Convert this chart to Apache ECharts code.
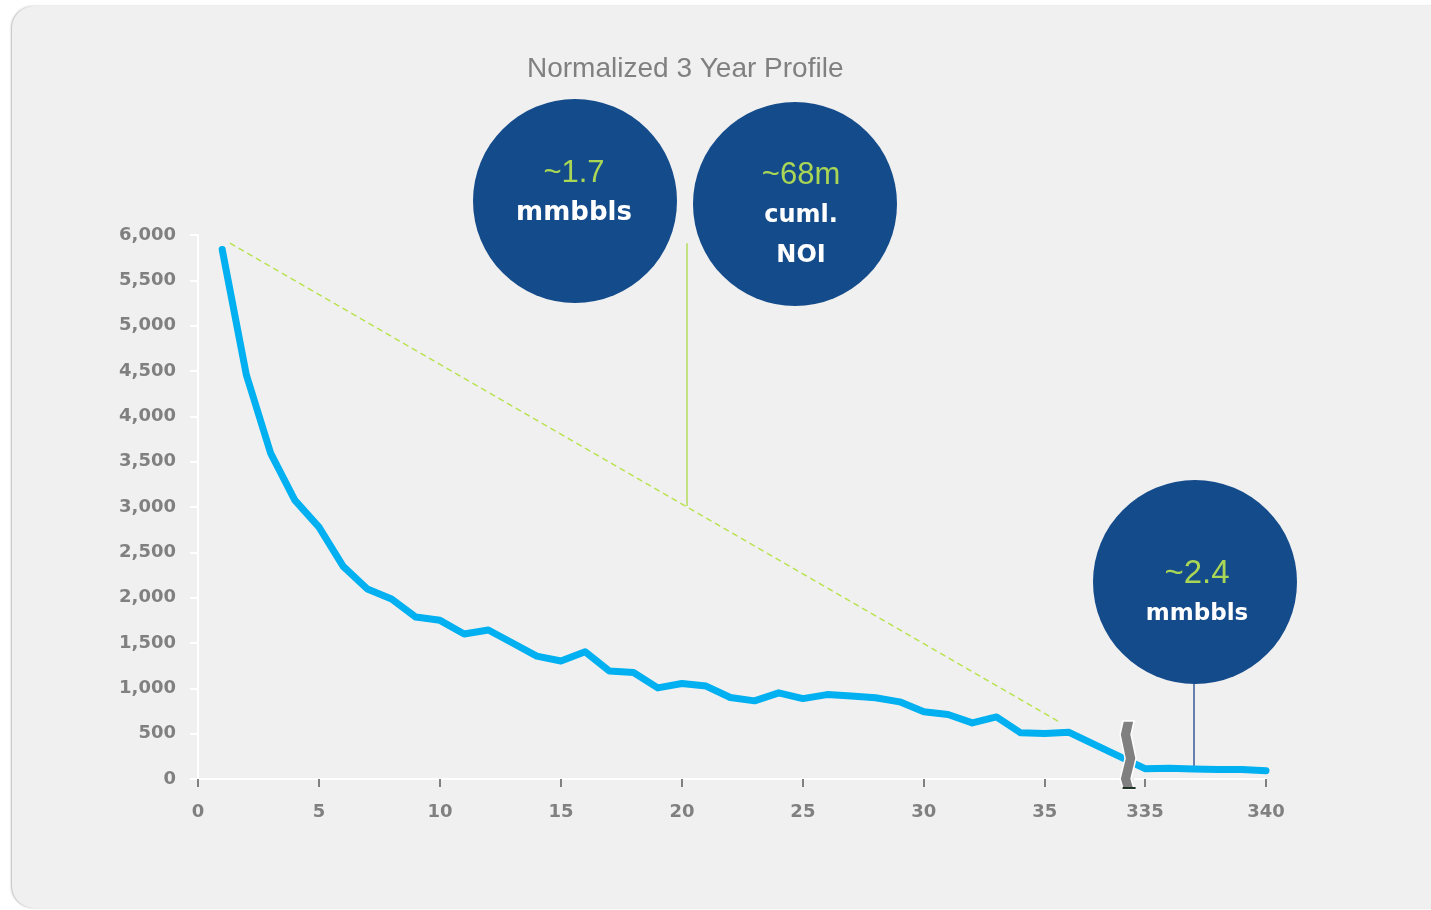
<!DOCTYPE html>
<html>
<head>
<meta charset="utf-8">
<script src="https://cdn.jsdelivr.net/npm/echarts@6.0.0/dist/echarts.min.js"></script>
<style>
html,body{margin:0;padding:0;background:#ffffff;width:1431px;height:910px;overflow:hidden;}
#panel{position:absolute;left:12px;top:6px;width:1450px;height:902px;background:#f0f0f0;border-radius:22px;box-shadow:-1px 0 2px rgba(0,0,0,0.28);}
#chart{position:absolute;left:0;top:0;width:1431px;height:910px;}
</style>
</head>
<body>
<div id="panel"></div>
<div id="chart"></div>
<script>
// ---- data ----
const MONTHS = [1,2,3,4,5,6,7,8,9,10,11,12,13,14,15,16,17,18,19,20,21,22,23,24,25,26,27,28,29,30,31,32,33,34,35,36,
                335,336,337,338,339,340];
const RATE = [5840,4455,3595,3076,2778,2345,2095,1985,1786,1750,1599,1643,1500,1356,1301,1404,1191,1174,1005,1053,
              1025,899,862,950,887,931,915,896,851,741,711,619,685,509,502,515,
              114,118,110,106,104,92];
const Y_MIN = 0, Y_MAX = 6000, Y_STEP = 500;
const X_MIN = 0, X_MAX = 340;
const X_TICKS = [0, 5, 10, 15, 20, 25, 30, 35, 335, 340];
const X_BREAK = { start: 38.19, end: 334.59, gap: 0.54 };
const TITLE = 'Normalized 3 Year Profile';
const DECLINE_LINE = [[1.32, 5910], [35.6, 630]];
const CONNECTOR_GREEN = [[20.2, 3010], [20.2, 5910]];
const CONNECTOR_BLUE = [[337, 110], [337, 1050]];
const CALLOUT_VALUES = ['~1.7', '~68m', '~2.4'];
const CALLOUT_TEXTS = [['mmbbls'], ['cuml.', 'NOI'], ['mmbbls']];

(function () {
// ---- styles / layout ----
const GRAY = '#808080';
const LINE_BLUE = '#00b0f0';
const CIRCLE_BLUE = '#144b8b';
const LIME = '#a9d655';
const LABEL_FONT = 'DejaVu Sans';
const circleLayout = [
  { cx: 575, cy: 201, r: 102, vy: 173, ty: [213], tx: 574, vsize: 31, tsize: 26 },
  { cx: 795, cy: 204, r: 102, vy: 175, ty: [216, 256], tx: 801, vsize: 31, tsize: 24 },
  { cx: 1195, cy: 582, r: 102, vy: 574, ty: [614], tx: 1197, vsize: 33, tsize: 23 }
];

const chart = echarts.init(document.getElementById('chart'), null, { renderer: 'canvas' });

function callouts() {
  const els = [];
  circleLayout.forEach((c, i) => {
    els.push({ type: 'circle', z: 50, shape: { cx: c.cx, cy: c.cy, r: c.r }, style: { fill: CIRCLE_BLUE } });
    els.push({ type: 'text', z: 51, x: c.tx, y: c.vy,
      style: { text: CALLOUT_VALUES[i], fill: LIME, fontFamily: 'Liberation Sans', fontSize: c.vsize,
               align: 'center', verticalAlign: 'middle' } });
    CALLOUT_TEXTS[i].forEach((t, j) => {
      els.push({ type: 'text', z: 51, x: c.tx, y: c.ty[j],
        style: { text: t, fill: '#ffffff', fontFamily: LABEL_FONT, fontWeight: 'bold', fontSize: c.tsize,
                 align: 'center', verticalAlign: 'middle' } });
    });
  });
  return els;
}

const option = {
  backgroundColor: 'transparent',
  animation: false,
  title: {
    text: TITLE, left: 522, top: 50,
    textStyle: { fontFamily: 'Liberation Sans', fontSize: 28, fontWeight: 'normal', color: GRAY }
  },
  grid: { left: 198, right: 165, top: 235, bottom: 131, containLabel: false },
  xAxis: {
    type: 'value', min: X_MIN, max: X_MAX,
    breaks: [X_BREAK],
    breakArea: { show: false },
    axisLine: { show: true, lineStyle: { color: '#ffffff', width: 2 } },
    axisTick: { show: true, length: 8, customValues: X_TICKS, lineStyle: { color: GRAY, width: 2 } },
    axisLabel: {
      color: GRAY, fontFamily: LABEL_FONT, fontWeight: 'bold', fontSize: 18, margin: 24,
      customValues: X_TICKS,
      formatter: v => String(Math.round(v))
    },
    splitLine: { show: false }
  },
  yAxis: {
    type: 'value', min: Y_MIN, max: Y_MAX, interval: Y_STEP,
    axisLine: { show: true, lineStyle: { color: '#ffffff', width: 2 } },
    axisTick: { show: true, length: 8, lineStyle: { color: '#ffffff', width: 2 } },
    axisLabel: {
      color: GRAY, fontFamily: LABEL_FONT, fontWeight: 'bold', fontSize: 18, margin: 22,
      formatter: v => v.toLocaleString('en-US')
    },
    splitLine: { show: false }
  },
  series: [{
    type: 'line',
    data: MONTHS.map((m, i) => [m, RATE[i]]),
    symbol: 'none',
    lineStyle: { color: LINE_BLUE, width: 7, cap: 'round', join: 'round' },
    z: 5,
    markLine: {
      silent: true, symbol: 'none', label: { show: false }, animation: false,
      data: [
        [{ coord: DECLINE_LINE[0], lineStyle: { color: '#b8e34e', width: 1.5, type: [6, 4] } }, { coord: DECLINE_LINE[1] }],
        [{ coord: CONNECTOR_GREEN[0], lineStyle: { color: '#b4dd5c', width: 1.5, type: 'solid' } }, { coord: CONNECTOR_GREEN[1] }],
        [{ coord: CONNECTOR_BLUE[0], lineStyle: { color: '#3b5b98', width: 1.5, type: 'solid' } }, { coord: CONNECTOR_BLUE[1] }]
      ]
    }
  }],
  graphic: callouts()
};
chart.setOption(option);

// break symbol drawn at the axis break position
const xa = chart.convertToPixel({ xAxisIndex: 0 }, X_BREAK.start);
const xb = chart.convertToPixel({ xAxisIndex: 0 }, X_BREAK.end);
const y0 = chart.convertToPixel({ yAxisIndex: 0 }, 0);
const mid = (xa + xb) / 2;
const symTop = y0 - 58, symBot = y0 + 10, w = 11;
const zig = [[0, 0], [-3, 0.2], [2, 0.55], [-3, 0.85], [0, 1]];
const leftPts = zig.map(p => [mid - w / 2 + p[0], symTop + p[1] * (symBot - symTop)]);
const rightPts = zig.slice().reverse().map(p => [mid + w / 2 + p[0], symTop + p[1] * (symBot - symTop)]);
chart.setOption({
  graphic: callouts().concat([
    { type: 'polygon', z: 40, shape: { points: leftPts.concat(rightPts) },
      style: { fill: '#808080', stroke: '#ffffff', lineWidth: 1.5 } },
    { type: 'line', z: 41, shape: { x1: mid - 6, y1: symBot - 1, x2: mid + 7, y2: symBot - 1 },
      style: { stroke: '#1f3326', lineWidth: 2 } }
  ])
});
})();
</script>
</body>
</html>
